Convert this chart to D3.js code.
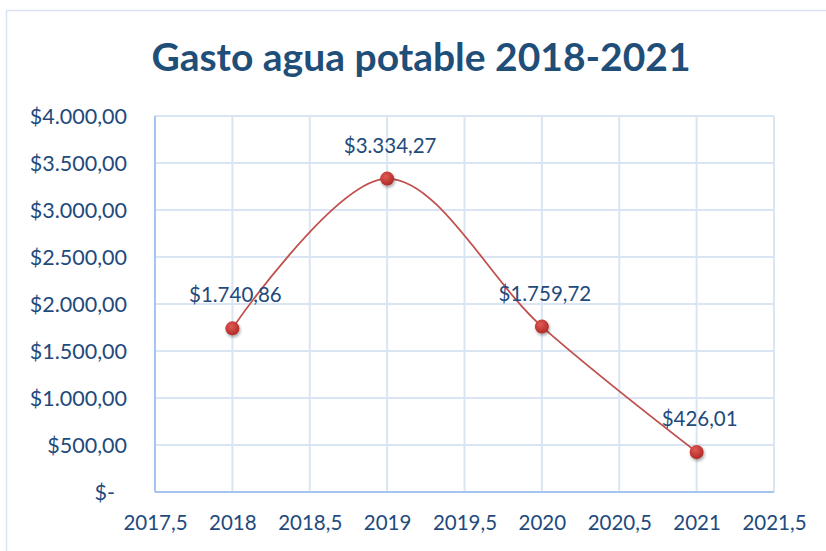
<!DOCTYPE html>
<html>
<head>
<meta charset="utf-8">
<script src="https://cdn.jsdelivr.net/npm/d3@7"></script>
<style>
  body { margin: 0; background: #fff; }
  svg { display: block; font-family: Lato, "Open Sans", sans-serif; }
</style>
</head>
<body>
<svg id="chart" width="826" height="551"></svg>
<script>
// data
const years = [2018, 2019, 2020, 2021];
const gasto = [1740.86, 3334.27, 1759.72, 426.01];
const xTicks = [2017.5, 2018, 2018.5, 2019, 2019.5, 2020, 2020.5, 2021, 2021.5];
const yTicks = [0, 500, 1000, 1500, 2000, 2500, 3000, 3500, 4000];
const title = "Gasto agua potable 2018-2021";

const svgWidth = 826, svgHeight = 551;
const margin = {top: 116, right: 52, bottom: 59, left: 155};
const width = svgWidth - margin.left - margin.right;
const height = svgHeight - margin.top - margin.bottom;

const textCol = "#1f4a7c";
const gridCol = "#dae5f4";
const axisCol = "#a3c5ef";
const lineCol = "#c0504d";

// formato contable: $1.740,86
function money(v) {
  if (v === 0) return "$-";
  const parts = v.toFixed(2).split(".");
  const ent = parts[0].replace(/\B(?=(\d{3})+(?!\d))/g, ".");
  return "$" + ent + "," + parts[1];
}
function yearFmt(v) {
  return String(v).replace(".", ",");
}

const svg = d3.select("#chart");

// chart frame
svg.append("rect")
  .attr("x", 6.5).attr("y", 10.5)
  .attr("width", 840).attr("height", 560)
  .attr("fill", "#fff")
  .attr("stroke", "#dae3f3")
  .attr("stroke-width", 1.5);

const defs = svg.append("defs");
const grad = defs.append("radialGradient").attr("id", "dot")
  .attr("cx", "40%").attr("cy", "35%").attr("r", "65%");
grad.append("stop").attr("offset", "0%").attr("stop-color", "#e05a55");
grad.append("stop").attr("offset", "100%").attr("stop-color", "#b02a26");
const shadow = defs.append("filter").attr("id", "shadow")
  .attr("x", "-50%").attr("y", "-50%").attr("width", "200%").attr("height", "200%");
shadow.append("feDropShadow")
  .attr("dx", 1).attr("dy", 2).attr("stdDeviation", 1.5)
  .attr("flood-color", "#000").attr("flood-opacity", 0.35);

svg.append("text")
  .attr("x", 421).attr("y", 71)
  .attr("text-anchor", "middle")
  .attr("font-size", 39)
  .attr("font-weight", "bold")
  .attr("fill", "#1f4e79")
  .text(title);

const g = svg.append("g")
  .attr("transform", "translate(" + margin.left + "," + margin.top + ")");

const x = d3.scaleLinear().domain([2017.5, 2021.5]).range([0, width]);
const y = d3.scaleLinear().domain([0, 4000]).range([height, 0]);

// gridlines
g.selectAll(".vgrid").data(xTicks).enter().append("line")
  .attr("x1", d => x(d)).attr("x2", d => x(d))
  .attr("y1", 0).attr("y2", height)
  .attr("stroke", gridCol).attr("stroke-width", 2);
g.selectAll(".hgrid").data(yTicks).enter().append("line")
  .attr("x1", 0).attr("x2", width)
  .attr("y1", d => y(d)).attr("y2", d => y(d))
  .attr("stroke", gridCol).attr("stroke-width", 2);

// axis lines
g.append("line").attr("x1", 0).attr("x2", 0).attr("y1", 0).attr("y2", height)
  .attr("stroke", axisCol).attr("stroke-width", 2);
g.append("line").attr("x1", 0).attr("x2", width).attr("y1", height).attr("y2", height)
  .attr("stroke", axisCol).attr("stroke-width", 2);

// axes (labels only)
const yAxis = g.append("g")
  .call(d3.axisLeft(y).tickValues(yTicks).tickFormat(money).tickSize(0).tickPadding(28));
const xAxis = g.append("g")
  .attr("transform", "translate(0," + height + ")")
  .call(d3.axisBottom(x).tickValues(xTicks).tickFormat(yearFmt).tickSize(0).tickPadding(23));
[yAxis, xAxis].forEach(a => {
  a.select(".domain").remove();
  a.selectAll("text")
    .attr("font-family", "Lato, 'Open Sans', sans-serif")
    .attr("fill", textCol);
});
yAxis.selectAll("text").attr("font-size", 21.5).attr("dy", "0.36em");
yAxis.selectAll("text").filter(d => d === 0).attr("dx", -12);
xAxis.selectAll("text").attr("font-size", 20.5).attr("dy", "0.75em");

// smoothed line
const pts = years.map((yr, i) => ({yr: yr, v: gasto[i]}));
const line = d3.line()
  .x(d => x(d.yr))
  .y(d => y(d.v))
  .curve(d3.curveCardinal.tension(0));
g.append("path")
  .datum(pts)
  .attr("d", line)
  .attr("fill", "none")
  .attr("stroke", lineCol)
  .attr("stroke-width", 1.75);

g.selectAll(".dot").data(pts).enter().append("circle")
  .attr("cx", d => x(d.yr))
  .attr("cy", d => y(d.v))
  .attr("r", 7)
  .attr("fill", "url(#dot)")
  .attr("filter", "url(#shadow)");

g.selectAll(".lbl").data(pts).enter().append("text")
  .attr("x", d => x(d.yr) + 3)
  .attr("y", d => y(d.v) - 26)
  .attr("text-anchor", "middle")
  .attr("font-size", 20.5)
  .attr("fill", textCol)
  .text(d => money(d.v));
</script>
</body>
</html>
